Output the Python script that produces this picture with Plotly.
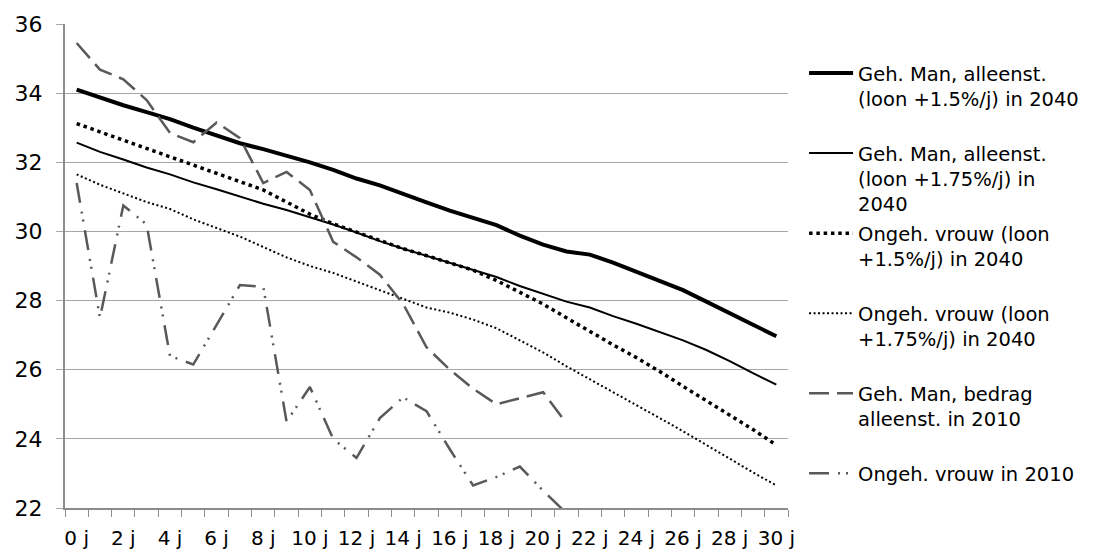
import plotly.graph_objects as go

# jaren na pensionering (categorieën op de x-as)
jaren = list(range(31))

geh_man_15 = [34.1, 33.87, 33.65, 33.45, 33.25, 33.0, 32.78, 32.55, 32.38, 32.2,
              32.0, 31.78, 31.53, 31.33, 31.07, 30.84, 30.6, 30.4, 30.18, 29.88,
              29.62, 29.42, 29.33, 29.1, 28.83, 28.57, 28.3, 27.97, 27.62, 27.3, 26.97]

geh_man_175 = [32.57, 32.3, 32.08, 31.85, 31.65, 31.42, 31.22, 31.0, 30.8, 30.62,
               30.42, 30.2, 29.97, 29.72, 29.5, 29.3, 29.1, 28.9, 28.68, 28.42,
               28.2, 27.97, 27.8, 27.55, 27.33, 27.1, 26.85, 26.57, 26.25, 25.9, 25.57]

ongeh_vrouw_15 = [33.12, 32.88, 32.65, 32.4, 32.15, 31.92, 31.68, 31.43, 31.2, 30.85,
                  30.5, 30.22, 29.98, 29.72, 29.5, 29.3, 29.1, 28.88, 28.58, 28.25,
                  27.9, 27.5, 27.1, 26.72, 26.35, 25.95, 25.52, 25.1, 24.68, 24.27, 23.82]

ongeh_vrouw_175 = [31.65, 31.35, 31.1, 30.85, 30.65, 30.35, 30.1, 29.85, 29.55, 29.25,
                   29.0, 28.8, 28.55, 28.3, 28.05, 27.8, 27.65, 27.45, 27.2, 26.85,
                   26.5, 26.1, 25.73, 25.35, 24.97, 24.6, 24.22, 23.82, 23.42, 23.03, 22.65]

geh_man_2010 = [35.45, 34.68, 34.4, 33.8, 32.85, 32.58, 33.15, 32.7, 31.4, 31.72,
                31.2, 29.7, 29.25, 28.75, 27.9, 26.65, 26.0, 25.45, 25.0, 25.17,
                25.35, 24.45]

ongeh_vrouw_2010 = [31.4, 27.5, 30.75, 30.2, 26.4, 26.15, 27.3, 28.45, 28.4, 24.5,
                    25.5, 24.0, 23.45, 24.6, 25.2, 24.8, 23.7, 22.65, 22.9, 23.2,
                    22.5, 21.85]

# legendateksten; lege regel erachter zodat alle items even hoog zijn
namen = [
    "Geh. Man, alleenst.<br>(loon +1.5%/j) in 2040<br> ",
    "Geh. Man, alleenst.<br>(loon +1.75%/j) in<br>2040",
    "Ongeh. vrouw (loon<br>+1.5%/j) in 2040<br> ",
    "Ongeh. vrouw (loon<br>+1.75%/j) in 2040<br> ",
    "Geh. Man, bedrag<br>alleenst. in 2010<br> ",
    "Ongeh. vrouw in 2010",
]

GRIJS = "#595959"

series = [
    (geh_man_15, dict(color="black", width=4)),
    (geh_man_175, dict(color="black", width=2)),
    (ongeh_vrouw_15, dict(color="black", width=3.5, dash="3.5px,3.8px")),
    (ongeh_vrouw_175, dict(color="black", width=2, dash="2px,2.5px")),
    (geh_man_2010, dict(color=GRIJS, width=2.5, dash="20px,8px")),
    (ongeh_vrouw_2010, dict(color=GRIJS, width=2.5, dash="20px,9px,2px,6px,2px,9px")),
]

fig = go.Figure()
for i, (waarden, lijn) in enumerate(series):
    fig.add_trace(go.Scatter(
        x=jaren[:len(waarden)],
        y=waarden,
        mode="lines",
        name=namen[i],
        legendgroup=f"g{i}",
        line=lijn,
    ))

# de pagina heeft 8px body-marge, daarom iets kleiner dan het venster
fig.update_layout(
    width=1098,
    height=544,
    margin=dict(l=57, r=318, t=16, b=44),
    plot_bgcolor="white",
    paper_bgcolor="white",
    font=dict(family="DejaVu Sans, Verdana, sans-serif", size=20, color="black"),
    showlegend=True,
    legend=dict(
        x=1.0222, y=0.9383, xanchor="left", yanchor="top",
        valign="top", itemwidth=44, tracegroupgap=1,
        font=dict(size=19.5),
        bgcolor="rgba(0,0,0,0)",
    ),
)

fig.update_xaxes(
    range=[-0.5, 30.5],
    automargin=False,
    tickmode="array",
    tickvals=jaren[::2],
    ticktext=[f"{j} j" for j in jaren[::2]],
    ticks="",
    ticklabelstandoff=11,
    tickfont=dict(size=20),
    showgrid=False,
    zeroline=False,
    showline=True,
    linecolor="#8c8c8c",
    linewidth=1.5,
    minor=dict(
        tickmode="array",
        tickvals=[j - 0.5 for j in jaren] + [30.5],
        ticks="outside",
        ticklen=7,
        tickcolor="#8c8c8c",
        showgrid=False,
    ),
)
fig.update_yaxes(
    range=[22, 36],
    automargin=False,
    dtick=2,
    ticks="outside",
    ticklen=7,
    tickcolor="#a6a6a6",
    ticklabelstandoff=9,
    tickfont=dict(size=22),
    showgrid=True,
    gridcolor="#a6a6a6",
    gridwidth=1.3,
    zeroline=False,
    showline=True,
    linecolor="#8c8c8c",
    linewidth=2,
)

fig.write_html("out.html")
